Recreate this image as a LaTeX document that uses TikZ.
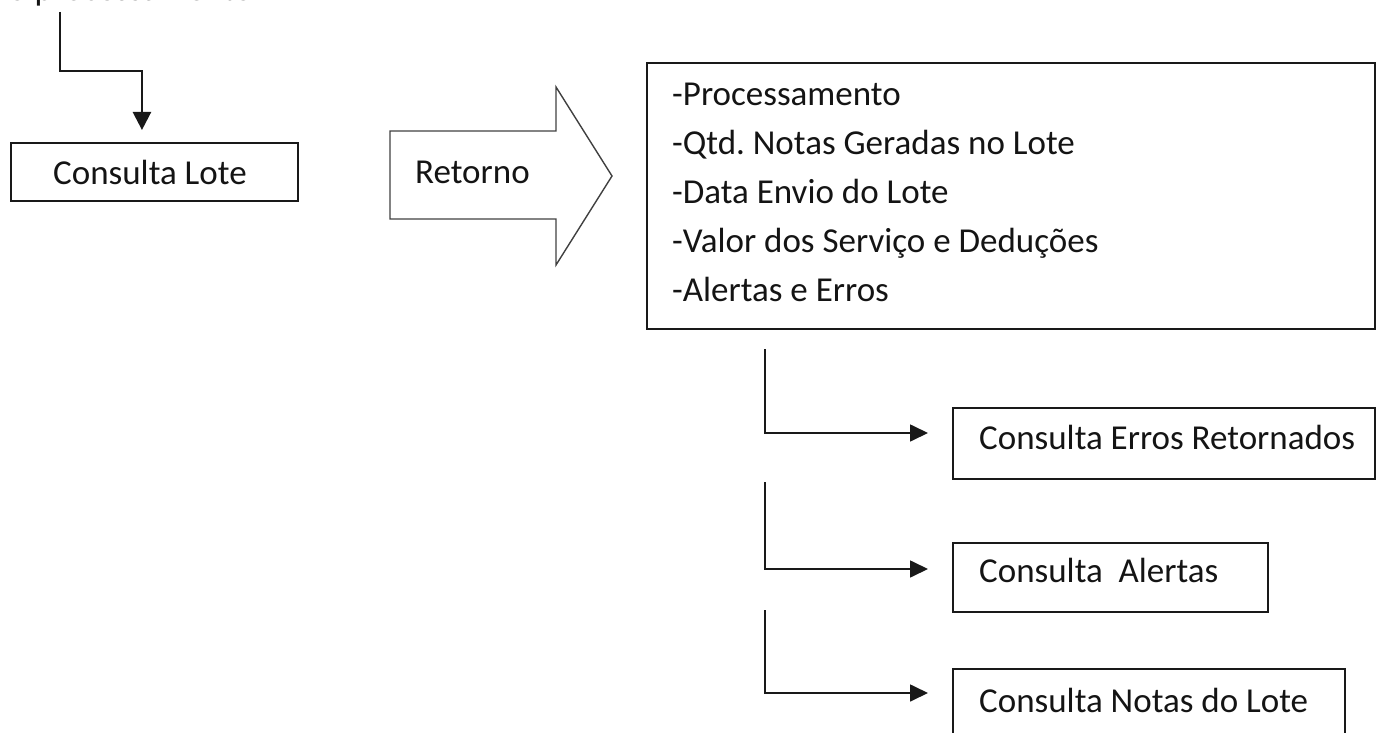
\documentclass[tikz,border=0pt]{standalone}
\usepackage{fontspec}
\setmainfont{Carlito}
\usetikzlibrary{arrows.meta}
\frenchspacing
\begin{document}
\begin{tikzpicture}[x=1pt,y=-1pt,
  txt/.style={font=\fontsize{35}{49}\selectfont, inner sep=0pt, anchor=base west, text=black!92},
  box/.style={draw=black!90, line width=1.9pt, inner sep=0pt, anchor=north west},
  conn/.style={draw=black!90, line width=1.7pt, -{Triangle[length=18pt,width=17pt]}},
  conntop/.style={draw=black!90, line width=2.5pt, -{Triangle[length=18pt,width=18pt]}},
  bigarrow/.style={draw=black!75, line width=1.4pt, line join=miter}
]
\useasboundingbox (0,0) rectangle (1376,733);
\clip (0,0) rectangle (1376,733);

% cropped text at the top (cut off in the reference)
\node[txt] (topT) at (8,0.5) {o processamento};

% boxes
\node[box, minimum width=287pt, minimum height=58pt] (lote) at (10,142) {};
\node[box, minimum width=728pt, minimum height=266pt] (info) at (646,62) {};
\node[box, minimum width=422pt, minimum height=71pt] (erros) at (952,407) {};
\node[box, minimum width=315pt, minimum height=69pt] (alertas) at (952,542) {};
\node[box, minimum width=392pt, minimum height=90pt] (notas) at (952,668) {};

% texts
\node[txt] (loteT) at (53,184) {Consulta Lote};
\node[txt] (l1) at (672,105.5) {-Processamento};
\node[txt] (l2) at (672,154.5) {-Qtd. Notas Geradas no Lote};
\node[txt] (l3) at (672,203) {-Data Envio do Lote};
\node[txt] (l4) at (672,252.5) {-Valor dos Serviço e Deduções};
\node[txt] (l5) at (672,301.5) {-Alertas e Erros};
\node[txt] (errosT) at (979,449) {Consulta Erros Retornados};
\node[txt] (alertasT) at (979,582) {Consulta\ \ Alertas};
\node[txt] (notasT) at (979,712) {Consulta Notas do Lote};

% block arrow "Retorno"
\draw[bigarrow] (390,131) -- (556,131) -- (556,87) -- (612,176) -- (556,265) -- (556,219) -- (390,219) -- cycle;
\node[txt] (retT) at (415,183) {Retorno};

% top connector
\coordinate (topsrc) at (60,12);
\draw[conntop] (topsrc) -- (60,71) -| ([xshift=-12.5pt,yshift=12pt]lote.north);

% lower connectors
\coordinate (s1) at (765,349);
\coordinate (e1) at (928,433);
\coordinate (s2) at (765,482);
\coordinate (e2) at (928,569);
\coordinate (s3) at (765,610);
\coordinate (e3) at (928,693);
\draw[conn] (s1) |- (e1);
\draw[conn] (s2) |- (e2);
\draw[conn] (s3) |- (e3);
\end{tikzpicture}
\end{document}
